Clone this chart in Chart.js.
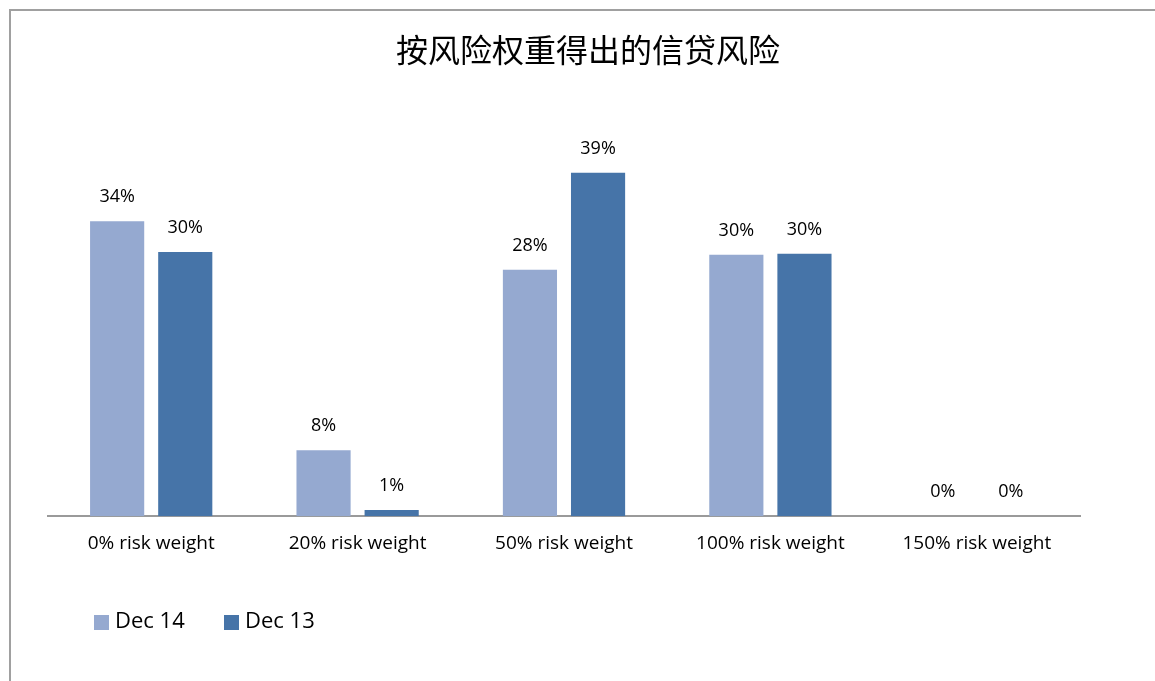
<!DOCTYPE html>
<html>
<head>
<meta charset="utf-8">
<script src="https://cdn.jsdelivr.net/npm/chart.js@4/dist/chart.umd.min.js"></script>
<style>
  html, body { margin: 0; padding: 0; background: #fff; overflow: hidden; }
  #frame { position: absolute; left: 9px; top: 9px; width: 1150px; height: 680px; border-left: 2px solid #a0a0a0; border-top: 2px solid #a0a0a0; }
  #wrap { position: absolute; left: 0; top: 0; width: 1155px; height: 681px; }
</style>
</head>
<body>
<div id="frame"></div>
<div id="wrap"><canvas id="riskChart" width="1155" height="681"></canvas></div>
<script>
// values (labels are rounded)
const categories = ['0% risk weight', '20% risk weight', '50% risk weight', '100% risk weight', '150% risk weight'];
const dec14 = [33.5, 7.5, 28, 29.7, 0];
const dec13 = [30, 0.7, 39, 29.8, 0];
const seriesNames = ['Dec 14', 'Dec 13'];
const seriesColors = ['#95a9d0', '#4674a8'];
const chartTitle = '按风险权重得出的信贷风险';

const txtFont = '"Open Sans", "Noto Sans", sans-serif';

// percentage labels above bars
const barLabels = {
    id: 'barLabels',
    afterDatasetsDraw(chart) {
        const ctx = chart.ctx;
        ctx.save();
        ctx.fillStyle = '#000';
        ctx.font = '18px ' + txtFont;
        ctx.textAlign = 'center';
        ctx.textBaseline = 'middle';
        chart.data.datasets.forEach((ds, i) => {
            chart.getDatasetMeta(i).data.forEach((bar, j) => {
                ctx.fillText(Math.round(ds.data[j]) + '%', bar.x, bar.y - 24);
            });
        });
        ctx.restore();
    }
};

// title and legend in the same spots as the original
const extras = {
    id: 'extras',
    afterDraw(chart) {
        const ctx = chart.ctx;
        ctx.save();
        ctx.fillStyle = '#000';
        ctx.font = '32px "Noto Sans CJK SC", sans-serif';
        ctx.textAlign = 'center';
        ctx.textBaseline = 'middle';
        ctx.fillText(chartTitle, 588, 50);

        ctx.font = '22px ' + txtFont;
        ctx.textAlign = 'left';
        let x = 94;
        chart.data.datasets.forEach(ds => {
            ctx.fillStyle = ds.backgroundColor;
            ctx.fillRect(x, 615, 15, 15);
            ctx.fillStyle = '#000';
            ctx.fillText(ds.label, x + 21, 622);
            x += 130;
        });
        ctx.restore();
    }
};

new Chart(document.getElementById('riskChart').getContext('2d'), {
    type: 'bar',
    data: {
        labels: categories,
        datasets: [
            { label: seriesNames[0], data: dec14, backgroundColor: seriesColors[0] },
            { label: seriesNames[1], data: dec13, backgroundColor: seriesColors[1] }
        ]
    },
    options: {
        responsive: false,
        animation: false,
        devicePixelRatio: 1,
        categoryPercentage: 0.66,
        barPercentage: 0.795,
        layout: { padding: { left: 48, right: 75, top: 164, bottom: 118 } },
        plugins: {
            legend: { display: false },
            title: { display: false },
            tooltip: { enabled: false }
        },
        scales: {
            x: {
                grid: { display: false },
                border: { display: true, color: '#9a9a9a', width: 2 },
                ticks: { color: '#000', font: { size: 19, family: txtFont }, padding: 8 }
            },
            y: {
                display: false,
                min: 0,
                max: 40
            }
        }
    },
    plugins: [barLabels, extras]
});
</script>
</body>
</html>
